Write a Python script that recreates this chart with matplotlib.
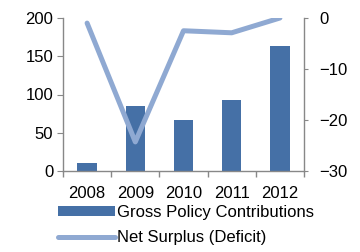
import numpy as np
import matplotlib.pyplot as plt

plt.rcParams['font.family'] = ['Liberation Sans', 'DejaVu Sans']

# data
years = ['2008', '2009', '2010', '2011', '2012']
gross_contrib = [11, 85, 67, 93, 163]
net_surplus = [-1.0, -24.3, -2.5, -2.9, 0.0]

bar_color = '#4570A6'
line_color = '#8FA9D2'
spine_color = '#888888'
fs = 12

fig = plt.figure(figsize=(3.6, 2.52), dpi=100)
ax = fig.add_axes([63/360, 1 - 171/252, (304-63)/360, (171-18)/252])
ax2 = ax.twinx()

x = np.arange(len(years))
b = ax.bar(x, gross_contrib, width=0.4, color=bar_color, zorder=2)
ln, = ax2.plot(x, net_surplus, color=line_color, lw=3.6, solid_capstyle='round', zorder=3)

ax.set_xlim(-0.5, 4.5)
ax.set_ylim(0, 200)
ax.set_yticks([0, 50, 100, 150, 200])
ax2.set_ylim(-30, 0)
ax2.set_yticks([-30, -20, -10, 0])

ax.set_xticks(np.arange(-0.5, 5, 1))
ax.set_xticklabels([])
ax.set_xticks(x, minor=True)
ax.set_xticklabels(years, minor=True)
ax.tick_params(axis='x', which='minor', length=0, labelsize=fs, pad=11)
ax.tick_params(axis='x', which='major', length=4, color=spine_color, width=1)
ax.tick_params(axis='y', length=4, color=spine_color, labelsize=fs, pad=3)
ax2.tick_params(axis='y', length=3, color=spine_color, labelsize=fs, pad=8)

for a in (ax, ax2):
    a.spines['top'].set_visible(False)
    for s in ('left', 'right', 'bottom'):
        a.spines[s].set_color(spine_color)
        a.spines[s].set_linewidth(1)
ax.spines['right'].set_visible(False)
ax2.spines['left'].set_visible(False)
ax2.spines['bottom'].set_visible(False)

ax2.set_zorder(ax.get_zorder() + 1)
ax2.patch.set_visible(False)

fig.legend([b, ln], ['Gross Policy Contributions', 'Net Surplus (Deficit)'],
           loc='upper left', bbox_to_anchor=(58/360, 1 - 205/252),
           frameon=False, fontsize=fs, handlelength=3.4, handleheight=0.55,
           handletextpad=0.15, labelspacing=0.6, borderpad=0, borderaxespad=0)

fig.savefig('out.png', dpi=100)
